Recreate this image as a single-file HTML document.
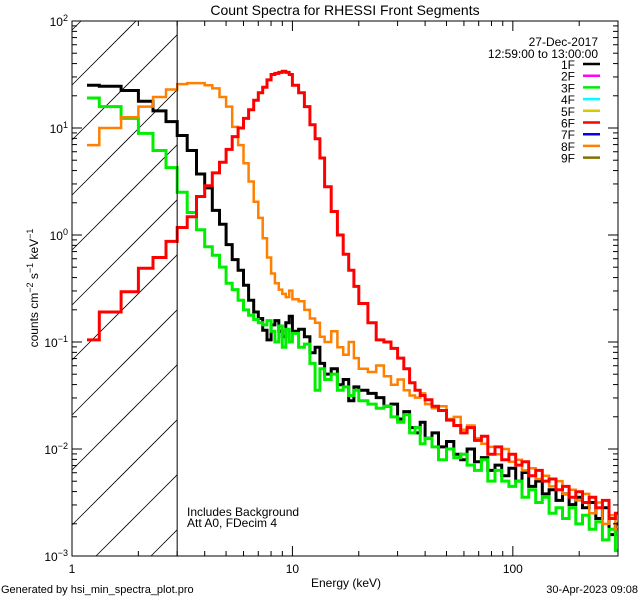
<!DOCTYPE html>
<html><head><meta charset="utf-8"><style>
html,body{margin:0;padding:0;background:#fff;width:640px;height:600px;overflow:hidden;}
svg{display:block;font-family:"Liberation Sans",sans-serif;}
</style></head><body>
<svg id="chart" width="640" height="600" viewBox="0 0 640 600" xmlns="http://www.w3.org/2000/svg">
<rect x="0" y="0" width="640" height="600" fill="#fff"/>
<text x="345" y="15" font-size="14" text-anchor="middle">Count Spectra for RHESSI Front Segments</text>
<g id="hatch"></g>
<g id="series"></g>
<g id="axes"></g>
<text x="598" y="46" font-size="12" text-anchor="end">27-Dec-2017</text>
<text x="598" y="58" font-size="12" text-anchor="end">12:59:00 to 13:00:00</text>
<g id="legend"></g>
<text x="187" y="516" font-size="12">Includes Background</text>
<text x="187" y="527" font-size="12">Att A0, FDecim 4</text>
<text x="346" y="587" font-size="12" text-anchor="middle">Energy (keV)</text>
<text transform="translate(38,288) rotate(-90)" font-size="12" text-anchor="middle">counts cm<tspan font-size="9" dy="-5">−2</tspan><tspan dy="5"> s</tspan><tspan font-size="9" dy="-5">−1</tspan><tspan dy="5"> keV</tspan><tspan font-size="9" dy="-5">−1</tspan></text>
<text x="1" y="593" font-size="11">Generated by hsi_min_spectra_plot.pro</text>
<text x="638" y="593" font-size="11" text-anchor="end">30-Apr-2023 09:08</text>
</svg>
<script>
const binEdges = [1.17,1.33,1.67,2.0,2.33,2.67,3.0,3.33,3.67,4.0,4.33,4.67,5.0,5.33,5.67,6.0,6.33,6.67,7.0,7.33,7.67,8.0,8.33,8.67,9.0,9.33,9.67,10,10.67,11.33,12,12.67,13.33,14,15,16,17,18,19,20,22,24,26,28,30,32,34,36,38,40,43,46,50,54,58,62,67,72,77,83,89,96,103,110,118,127,136,146,157,168,180,193,207,222,238,255,273,292,300];
const log1F = [1.40,1.39,1.35,1.25,1.16,1.06,0.93,0.79,0.57,0.44,0.23,0.10,-0.09,-0.23,-0.33,-0.47,-0.61,-0.72,-0.78,-0.89,-0.98,-0.84,-0.80,-0.90,-0.95,-0.82,-0.76,-0.90,-0.88,-0.95,-1.10,-1.05,-1.20,-1.30,-1.25,-1.40,-1.35,-1.55,-1.42,-1.45,-1.48,-1.52,-1.60,-1.58,-1.72,-1.65,-1.80,-1.85,-1.75,-1.90,-1.85,-1.98,-1.93,-2.05,-2.10,-2.00,-2.12,-2.08,-2.20,-2.15,-2.25,-2.18,-2.30,-2.22,-2.35,-2.30,-2.42,-2.38,-2.48,-2.42,-2.52,-2.45,-2.55,-2.50,-2.65,-2.55,-2.80,-2.70];
const log3F = [1.28,1.20,1.09,0.95,0.79,0.63,0.40,0.21,0.05,-0.11,-0.19,-0.30,-0.45,-0.51,-0.61,-0.70,-0.75,-0.79,-0.82,-0.84,-0.80,-0.90,-1.00,-0.85,-1.05,-0.88,-1.00,-0.92,-1.05,-1.02,-1.20,-1.45,-1.25,-1.35,-1.30,-1.45,-1.42,-1.50,-1.45,-1.55,-1.58,-1.62,-1.60,-1.70,-1.75,-1.68,-1.85,-1.80,-1.95,-1.90,-1.98,-2.10,-2.00,-2.08,-2.05,-2.15,-2.20,-2.10,-2.30,-2.20,-2.30,-2.35,-2.30,-2.45,-2.38,-2.50,-2.45,-2.60,-2.55,-2.65,-2.55,-2.70,-2.62,-2.75,-2.68,-2.85,-2.75,-2.95];
const log6F = [-0.98,-0.72,-0.53,-0.31,-0.21,-0.06,0.07,0.17,0.36,0.46,0.58,0.68,0.80,0.92,1.00,1.09,1.17,1.26,1.33,1.38,1.45,1.50,1.51,1.52,1.53,1.52,1.50,1.40,1.33,1.20,1.03,0.90,0.72,0.45,0.22,0.00,-0.18,-0.33,-0.48,-0.64,-0.82,-0.98,-1.00,-1.06,-1.15,-1.25,-1.38,-1.45,-1.50,-1.54,-1.60,-1.64,-1.73,-1.78,-1.85,-1.80,-1.92,-1.88,-2.05,-1.98,-2.10,-2.05,-2.15,-2.12,-2.25,-2.20,-2.30,-2.28,-2.38,-2.35,-2.45,-2.40,-2.50,-2.45,-2.55,-2.48,-2.65,-2.60];
const log8F = [0.84,1.00,1.10,1.20,1.29,1.36,1.41,1.42,1.42,1.40,1.37,1.29,1.20,1.01,0.84,0.67,0.50,0.31,0.16,-0.03,-0.21,-0.36,-0.45,-0.51,-0.55,-0.58,-0.52,-0.60,-0.62,-0.70,-0.78,-0.82,-0.95,-1.00,-0.90,-1.05,-1.12,-1.00,-1.15,-1.25,-1.28,-1.22,-1.32,-1.40,-1.35,-1.45,-1.50,-1.52,-1.48,-1.58,-1.62,-1.60,-1.72,-1.70,-1.82,-1.78,-1.90,-1.95,-1.98,-2.05,-2.00,-2.12,-2.10,-2.20,-2.18,-2.28,-2.25,-2.35,-2.30,-2.42,-2.38,-2.48,-2.42,-2.60,-2.50,-2.70,-2.62,-2.75];
const legendLabels = ["1F","2F","3F","4F","5F","6F","7F","8F","9F"];
const legendColors = ["#000000","#ff00ff","#00ee00","#00ffff","#d8c800","#ff0000","#0000ff","#ff8000","#807000"];
const xMajorTicks = [1,10,100];
const xTickLabels = ["1","10","100"];
const yMajorExp = [2,1,0,-1,-2,-3];

const NS="http://www.w3.org/2000/svg";
const L=72,R=618,T=21,B=556;
const xMin=1,xMax=300,yMinExp=-3,yMaxExp=2;
function xs(e){return L+(Math.log10(e)-Math.log10(xMin))/(Math.log10(xMax)-Math.log10(xMin))*(R-L);}
function ysLog(lv){return T+(yMaxExp-lv)/(yMaxExp-yMinExp)*(B-T);}
function mk(tag,attrs,parent){const el=document.createElementNS(NS,tag);for(const k in attrs)el.setAttribute(k,attrs[k]);parent.appendChild(el);return el;}

const hatch=document.getElementById('hatch');
const X3=xs(3);
for(let c=47;c<=X3+B;c+=55){
  // line x+y=c clipped to [L,X3]x[T,B]
  let xa=Math.max(L,c-B), xb=Math.min(X3,c-T);
  if(xb<=xa)continue;
  const ln=mk('line',{x1:xa,y1:c-xa,x2:xb,y2:c-xb,stroke:'#000','stroke-width':0.8},hatch);
  
  
}
const vline=mk('line',{x1:X3,y1:T,x2:X3,y2:B,stroke:'#000','stroke-width':1},hatch.parentNode);



const sg=document.getElementById('series');
function cl(y){return Math.min(B,Math.max(T,y));}
function stepPath(vals){
  let d='';
  for(let i=0;i<vals.length;i++){
    const x0=xs(binEdges[i]),x1=xs(binEdges[i+1]),y=cl(ysLog(vals[i]));
    d+=(i===0?'M':'L')+x0.toFixed(1)+','+y.toFixed(1)+'L'+x1.toFixed(1)+','+y.toFixed(1);
  }
  return d;
}
const seriesList=[[log1F,'#000000','series-1f',3],[log3F,'#00ee00','series-3f',3],[log8F,'#ff8000','series-8f',2.5],[log6F,'#ff0000','series-6f',3]];
seriesList.forEach(s=>{
  const p=mk('path',{d:stepPath(s[0]),fill:'none',stroke:s[1],'stroke-width':s[3],'stroke-linejoin':'miter'},sg);
  
  
});

const ax=document.getElementById('axes');
const frame=mk('rect',{x:L,y:T,width:R-L,height:B-T,fill:'none',stroke:'#000','stroke-width':1},ax);


for(let d=0;d<3;d++){
  for(let m=1;m<=9;m++){
    const e=Math.pow(10,d)*m; if(e>xMax)continue;
    const x=xs(e),len=(m===1)?10:5;
    const t1=mk('line',{x1:x,y1:B,x2:x,y2:B-len,stroke:'#000','stroke-width':1},ax);
    
    
    const t2=mk('line',{x1:x,y1:T,x2:x,y2:T+len,stroke:'#000','stroke-width':1},ax);
    
    
  }
}
xMajorTicks.forEach((v,i)=>{
  const t=mk('text',{x:xs(v),y:573,'font-size':12,'text-anchor':'middle'},ax);
  t.textContent=xTickLabels[i];
  
  
});
for(let ex=yMinExp;ex<yMaxExp;ex++){
  for(let m=1;m<=9;m++){
    const lv=ex+Math.log10(m),y=ysLog(lv),len=(m===1)?10:5;
    const t1=mk('line',{x1:L,y1:y,x2:L+len,y2:y,stroke:'#000','stroke-width':1},ax);
    
    
    const t2=mk('line',{x1:R,y1:y,x2:R-len,y2:y,stroke:'#000','stroke-width':1},ax);
    
    
  }
}
yMajorExp.forEach(ex=>{
  const y=ysLog(ex);
  const t=mk('text',{x:L-4,y:y+5,'font-size':12,'text-anchor':'end'},ax);
  
  
  const base=document.createElementNS(NS,'tspan');base.textContent='10';t.appendChild(base);
  const sup=document.createElementNS(NS,'tspan');sup.setAttribute('font-size','9');sup.setAttribute('dy','-5');
  sup.textContent=(ex<0?'−':'')+Math.abs(ex);t.appendChild(sup);
});

const lg=document.getElementById('legend');
legendLabels.forEach((lab,i)=>{
  const y=64+i*11.7;
  const t=mk('text',{x:575,y:y+5,'font-size':12,'text-anchor':'end'},lg);
  t.textContent=lab;
  
  
  const ln=mk('line',{x1:583,y1:y,x2:600,y2:y,stroke:legendColors[i],'stroke-width':2.5},lg);
  
  
});
</script>
</body></html>
